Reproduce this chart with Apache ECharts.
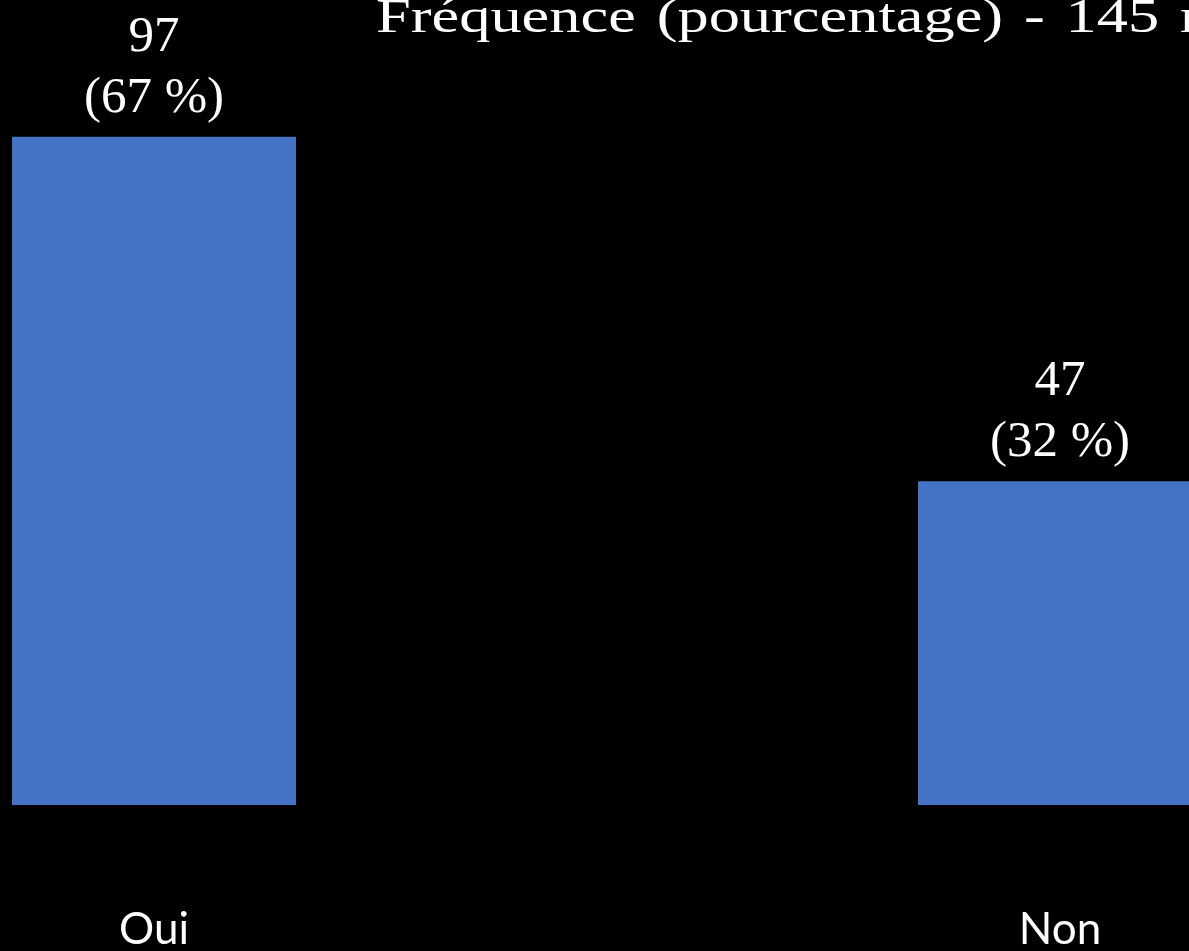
<!DOCTYPE html>
<html>
<head>
<meta charset="utf-8">
<script src="https://cdn.jsdelivr.net/npm/echarts@6/dist/echarts.min.js"></script>
<style>
  html, body { margin: 0; padding: 0; background: #000; }
  #chart { width: 1189px; height: 951px; }
</style>
</head>
<body>
<div id="chart"></div>
<script>
// Survey answers: counts and their share of the 145 respondents
const categories = ['Oui', 'Non'];
const counts = [97, 47];
const percents = [67, 32];
const titleWords = ['Fréquence', '(pourcentage)', '-', '145', 'répondants'];

const chart = echarts.init(document.getElementById('chart'));

chart.setOption({
  backgroundColor: '#000000',
  animation: false,
  // Heading: widened serif line, words joined by three-per-em spaces
  graphic: [{
    type: 'text',
    x: 376,
    y: -5,
    scaleX: 1.3,
    scaleY: 1,
    silent: true,
    style: {
      text: titleWords.join('\u2004'),
      fill: '#ffffff',
      font: '48px "Liberation Serif", "Times New Roman", serif',
      verticalAlign: 'top',
      align: 'left'
    }
  }],
  grid: {
    left: -299,
    width: 1812,
    top: 116,
    bottom: 146,
    containLabel: false,
    outerBoundsMode: 'none'
  },
  xAxis: {
    type: 'category',
    data: categories,
    axisLine: { show: false },
    axisTick: { show: false },
    axisLabel: {
      color: '#ffffff',
      fontFamily: 'Lato, "Open Sans", sans-serif',
      fontSize: 44,
      margin: 103
    }
  },
  yAxis: {
    type: 'value',
    min: 0,
    max: 100,
    show: false,
    splitLine: { show: false }
  },
  series: [{
    type: 'bar',
    data: counts,
    barWidth: 284,
    itemStyle: { color: '#4472C4' },
    label: {
      show: true,
      position: 'top',
      distance: 8,
      color: '#ffffff',
      fontFamily: '"Liberation Serif", "Times New Roman", serif',
      fontSize: 51,
      lineHeight: 61,
      align: 'center',
      formatter: (p) => p.value + '\n(' + percents[p.dataIndex] + ' %)'
    }
  }]
});
</script>
</body>
</html>
